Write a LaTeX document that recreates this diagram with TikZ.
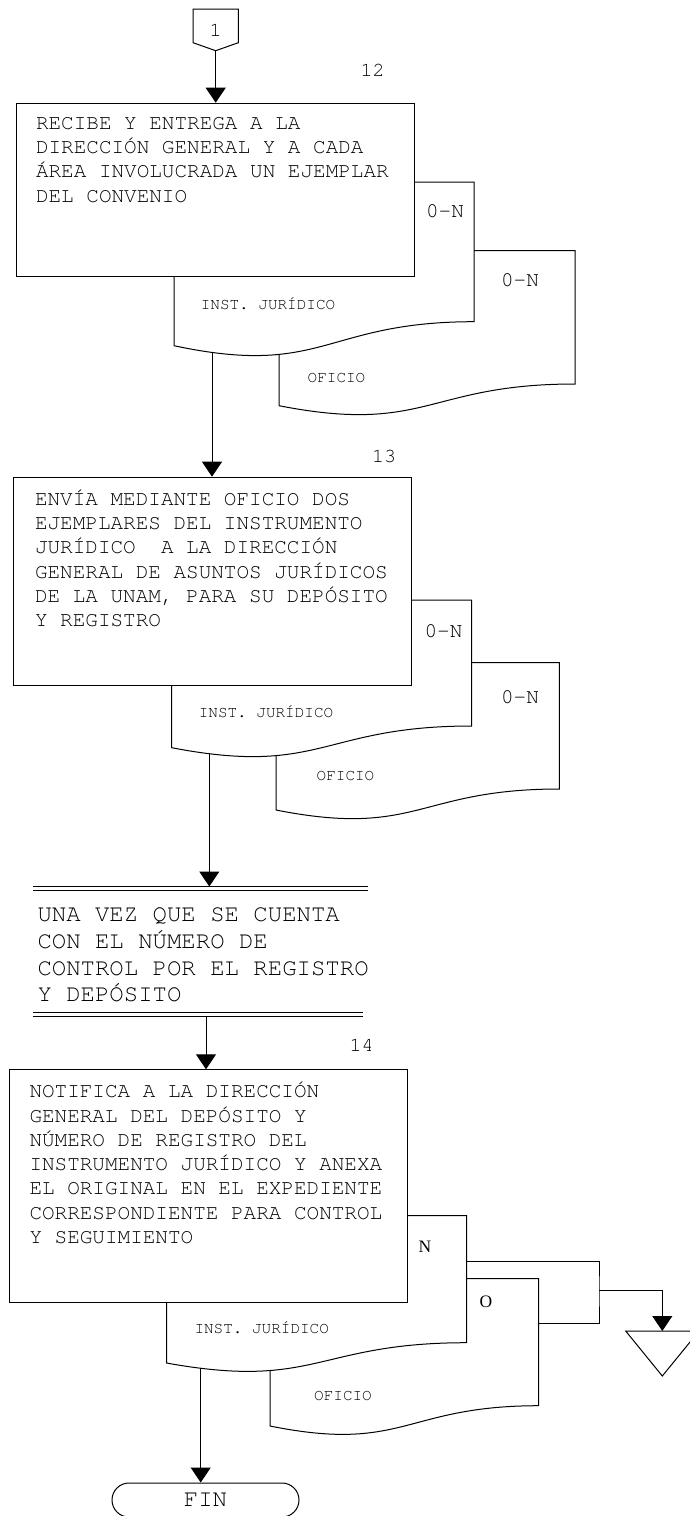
\documentclass[tikz,border=0pt]{standalone}
\usepackage{fontspec}
\newfontfamily\cursor{TeX Gyre Cursor}
\newfontfamily\romana{Liberation Serif}
\usetikzlibrary{arrows.meta,positioning,shapes.misc}

\begin{document}
\begin{tikzpicture}[x=1pt,y=-1pt,line width=1pt,
    >={Triangle[width=20pt,length=15pt]},
    caja/.style={draw,fill=white,inner sep=0pt,anchor=north west},
    texto/.style={font=\cursor\fontsize{21}{24.3}\selectfont,align=left,inner sep=0pt,anchor=base west},
    septexto/.style={font=\cursor\fontsize{24}{26.7}\selectfont,align=left,inner sep=0pt,anchor=base west},
    etiq/.style={font=\cursor\fontsize{16}{18}\selectfont,inner sep=0pt,anchor=base},
    num/.style={font=\cursor\fontsize{20}{22}\selectfont,inner sep=0pt,anchor=base},
    cant/.style={font=\cursor\fontsize{21}{24}\selectfont,inner sep=0pt,anchor=base},
    letra/.style={font=\romana\fontsize{17.5}{20}\selectfont,inner sep=0pt,anchor=base}]
  \useasboundingbox (0,0) rectangle (689,1516);

  \draw (193,9) -- (238.3,9) -- (238.3,42.7) -- (215.7,50.7) coordinate (c_1) -- (193,42.7) -- cycle;
  \node[num] (n_1) at (215.7,36) {1};

  \draw[fill=white] (279,250.7) -- (575,250.7) -- (575,384) .. controls (427,384) and (427,434.6) .. (279,405.7) -- cycle;
  \node[etiq] (e_ofi12) at (336.5,382) {OFICIO};
  \node[cant] (q_ofi12) at (520,286.7) {0-N};
  \draw[fill=white] (174,182) -- (474,182) -- (474,321.7) .. controls (324,321.7) and (324,377.7) .. (174,345.7) -- cycle;
  \node[etiq] (e_ins12) at (268,309.6) {INST. JURÍDICO};
  \node[cant] (q_ins12) at (445,217.7) {0-N};
  \node[caja,minimum width=398pt,minimum height=173pt] (p_12) at (16,102.7) {};
  \node[texto] (t_12) at (35.5,202.2) {RECIBE Y ENTREGA A LA\\DIRECCIÓN GENERAL Y A CADA\\ÁREA INVOLUCRADA UN EJEMPLAR\\DEL CONVENIO};
  \node[num] (n_12) at (372.5,76) {12};
  \coordinate (s_12) at (212,352.4);

  \draw[fill=white] (276,662.7) -- (559.3,662.7) -- (559.3,789) .. controls (417.7,789) and (417.7,838) .. (276,810) -- cycle;
  \node[etiq] (e_ofi13) at (345.5,780.6) {OFICIO};
  \node[cant] (q_ofi13) at (520,703.3) {0-N};
  \draw[fill=white] (171.7,600) -- (471.7,600) -- (471.7,726) .. controls (321.7,726) and (321.7,776.6) .. (171.7,747.7) -- cycle;
  \node[etiq] (e_ins13) at (266,717) {INST. JURÍDICO};
  \node[cant] (q_ins13) at (443.5,637.7) {0-N};
  \node[caja,minimum width=398pt,minimum height=208.3pt] (p_13) at (13,476.7) {};
  \node[texto] (t_13) at (34.5,626.8) {ENVÍA MEDIANTE OFICIO DOS\\EJEMPLARES DEL INSTRUMENTO\\JURÍDICO~ A LA DIRECCIÓN\\GENERAL DE ASUNTOS JURÍDICOS\\DE LA UNAM, PARA SU DEPÓSITO\\Y REGISTRO};
  \node[num] (n_13) at (384,462.7) {13};
  \coordinate (s_13) at (209.3,753.7);

  \draw (33,886.5) coordinate (sep_a) -- (368,886.5);
  \draw (33,890.7) -- (368,890.7);
  \node[septexto] (t_sep) at (37,1001.9) {UNA VEZ QUE SE CUENTA\\CON EL NÚMERO DE\\CONTROL POR EL REGISTRO\\Y DEPÓSITO};
  \draw (33,1012) -- (363,1012);
  \draw (33,1016) -- (363,1016) coordinate (sep_b);
  \coordinate (s_sep) at (206,1016);

  \draw[fill=white] (270,1278.7) -- (538.7,1278.7) -- (538.7,1405.7) .. controls (404.4,1405.7) and (404.4,1453.1) .. (270,1426) -- cycle;
  \node[etiq] (e_ofi14) at (343,1400.3) {OFICIO};
  \node[letra] (l_o) at (486,1307.8) {O};
  \draw[fill=white] (166.5,1215.7) -- (466.7,1215.7) -- (466.7,1342.7) .. controls (316.6,1342.7) and (316.6,1390.1) .. (166.5,1363) -- cycle;
  \node[etiq] (e_ins14) at (261.7,1333.6) {INST. JURÍDICO};
  \node[letra] (l_n) at (425,1252.5) {N};
  \node[caja,minimum width=397.4pt,minimum height=232.4pt] (p_14) at (9.3,1069.3) {};
  \node[texto] (t_14) at (29,1243.5) {NOTIFICA A LA DIRECCIÓN\\GENERAL DEL DEPÓSITO Y\\NÚMERO DE REGISTRO DEL\\INSTRUMENTO JURÍDICO Y ANEXA\\EL ORIGINAL EN EL EXPEDIENTE\\CORRESPONDIENTE PARA CONTROL\\Y SEGUIMIENTO};
  \node[num] (n_14) at (361.5,1051) {14};
  \coordinate (s_14) at (200.7,1368.3);

  \coordinate (n_out) at (466.7,1261.7);
  \coordinate (o_out) at (538.7,1323.7);
  \coordinate (k_join) at (599,1290.3);
  \draw (625.7,1331) coordinate (t_arch) -- (699,1331) -- (662.3,1376) -- cycle;
  \coordinate (t_top) at (662.3,1331);
  \draw (n_out) -| (k_join) |- (o_out);

  \node[draw,rounded rectangle,minimum width=187pt,minimum height=34pt,inner sep=0pt,
        font=\cursor\fontsize{24}{26}\selectfont] (p_fin) at (205.5,1500) {FIN};

  \path[->]
    (c_1) edge (c_1 |- p_12.north)
    (s_12) edge (s_12 |- p_13.north)
    (s_13) edge (s_13 |- sep_a)
    (s_sep) edge (s_sep |- p_14.north)
    (k_join) edge[to path={-| (\tikztotarget)}] (t_top)
    (s_14) edge (s_14 |- p_fin.north);
\end{tikzpicture}
\end{document}
